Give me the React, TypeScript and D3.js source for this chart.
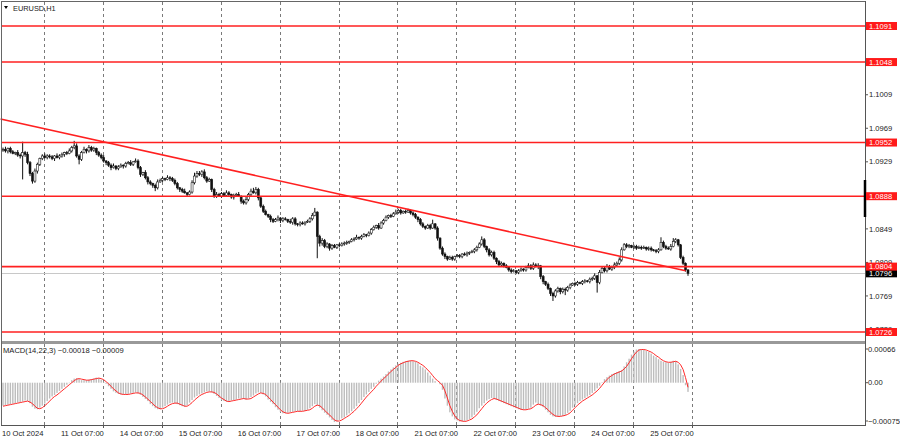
import React from 'react';
import * as d3 from 'd3';

// prices are kept in pips above BASE
const BASE = 1.07;
const PIP = 0.0001;
const FIRST_OPEN = 243;

// EURUSD H1 closes, 10 Oct 2024 -> 25 Oct 2024
const closes = [
    244, 242, 245, 241, 239, 240, 237, 236, 240, 238,
    228, 215, 206, 218, 226, 233, 236, 234, 236, 235,
    233, 236, 234, 236, 238, 240, 239, 242, 246, 248,
    236, 232, 240, 244, 242, 246, 243, 245, 240, 237,
    234, 230, 228, 225, 222, 224, 221, 223, 225, 224,
    227, 228, 226, 229, 230, 222, 214, 216, 210, 205,
    203, 201, 198, 205, 207, 209, 208, 210, 209, 207,
    203, 198, 196, 194, 192, 190, 193, 204, 212, 215,
    214, 217, 210, 206, 208, 196, 188, 190, 188, 191,
    189, 192, 190, 187, 189, 190, 188, 182, 180, 184,
    190, 194, 192, 196, 186, 176, 170, 166, 164, 160,
    158, 160, 162, 159, 161, 160, 158, 157, 161, 155,
    154, 156, 155, 157, 158, 161, 165, 169, 140, 132,
    135, 128, 131, 126, 129, 127, 130, 129, 131, 132,
    133, 134, 136, 137, 139, 138, 140, 142, 141, 144,
    148, 151, 153, 150, 156, 159, 163, 165, 164, 167,
    169, 171, 168, 170, 169, 171, 168, 166, 163, 160,
    155, 152, 150, 153, 150, 155, 150, 138, 126, 119,
    116, 113, 115, 113, 116, 117, 116, 119, 118, 120,
    121, 122, 124, 127, 131, 136, 128, 124, 118, 121,
    114, 110, 106, 108, 105, 103, 100, 98, 99, 97,
    99, 101, 100, 103, 105, 102, 106, 104, 105, 92,
    86, 83, 78, 72, 69, 75, 78, 74, 77, 76,
    79, 82, 84, 83, 85, 84, 86, 87, 86, 89,
    90, 93, 85, 97, 102, 99, 104, 101, 103, 106,
    108, 112, 124, 130, 128, 129, 127, 128, 126, 127,
    126, 127, 125, 126, 124, 123, 122, 124, 133, 128,
    126, 125, 128, 134, 136, 130, 115, 108, 100, 96,
];

// upper / lower shadows in pips
const wickUp = [
    2, 3, 1, 2, 2, 1, 3, 2, 13, 2,
    3, 2, 2, 3, 2, 1, 2, 3, 2, 2,
    2, 1, 3, 2, 2, 1, 2, 3, 2, 6,
    3, 2, 2, 3, 1, 3, 2, 2, 1, 2,
    2, 3, 1, 2, 2, 3, 1, 2, 2, 1,
    2, 2, 3, 1, 3, 2, 2, 1, 3, 2,
    2, 1, 2, 3, 2, 2, 1, 3, 2, 2,
    2, 2, 1, 2, 3, 1, 2, 3, 4, 3,
    3, 2, 3, 2, 2, 1, 2, 3, 2, 2,
    2, 3, 2, 1, 2, 2, 3, 1, 2, 3,
    2, 3, 4, 3, 2, 1, 2, 2, 1, 2,
    2, 2, 3, 1, 2, 2, 1, 3, 2, 2,
    1, 2, 2, 1, 2, 2, 3, 5, 1, 2,
    3, 2, 2, 1, 2, 2, 1, 2, 2, 2,
    2, 1, 2, 2, 3, 1, 2, 2, 1, 2,
    2, 2, 1, 3, 2, 2, 2, 1, 2, 2,
    3, 2, 2, 1, 2, 2, 1, 2, 2, 1,
    2, 2, 1, 2, 2, 5, 1, 2, 1, 2,
    2, 1, 2, 2, 1, 2, 2, 1, 2, 2,
    1, 2, 2, 2, 2, 4, 2, 1, 2, 2,
    2, 1, 2, 2, 1, 2, 1, 2, 2, 1,
    2, 2, 1, 2, 3, 2, 3, 2, 3, 1,
    2, 1, 2, 1, 2, 2, 2, 1, 2, 2,
    2, 2, 1, 2, 2, 1, 2, 2, 1, 2,
    2, 3, 1, 3, 2, 2, 3, 2, 2, 3,
    2, 3, 3, 2, 2, 2, 1, 2, 2, 2,
    2, 2, 1, 2, 2, 1, 2, 2, 6, 2,
    2, 2, 3, 4, 2, 1, 1, 2, 1, 1,
];

const wickDown = [
    2, 2, 3, 2, 1, 2, 2, 3, 28, 3,
    2, 3, 3, 2, 3, 2, 2, 1, 2, 2,
    2, 3, 1, 2, 2, 3, 2, 1, 2, 2,
    2, 6, 2, 1, 3, 2, 2, 2, 3, 2,
    2, 2, 3, 2, 3, 1, 2, 2, 1, 3,
    2, 1, 2, 2, 1, 2, 3, 2, 2, 3,
    2, 3, 4, 2, 1, 2, 2, 1, 3, 2,
    2, 2, 3, 2, 1, 2, 1, 2, 2, 2,
    2, 3, 2, 2, 1, 3, 2, 2, 1, 2,
    2, 1, 2, 2, 3, 2, 1, 3, 2, 2,
    2, 2, 1, 2, 3, 2, 2, 1, 2, 3,
    2, 1, 2, 3, 2, 1, 2, 2, 3, 2,
    2, 2, 1, 2, 1, 2, 2, 1, 26, 4,
    3, 2, 2, 3, 2, 1, 2, 2, 1, 2,
    2, 2, 1, 2, 1, 2, 2, 1, 2, 1,
    2, 1, 2, 2, 1, 2, 1, 2, 2, 1,
    1, 2, 2, 1, 2, 1, 2, 2, 2, 3,
    2, 2, 2, 1, 2, 1, 2, 3, 2, 2,
    3, 2, 1, 2, 2, 1, 2, 2, 1, 2,
    2, 1, 2, 2, 1, 2, 2, 3, 2, 2,
    2, 3, 2, 2, 2, 1, 2, 2, 1, 2,
    2, 1, 2, 2, 1, 2, 2, 1, 3, 3,
    3, 2, 2, 3, 6, 2, 2, 3, 2, 6,
    2, 2, 1, 2, 2, 1, 2, 2, 1, 2,
    2, 2, 12, 2, 1, 2, 2, 1, 2, 2,
    2, 2, 2, 1, 2, 2, 1, 2, 2, 1,
    2, 1, 2, 2, 2, 1, 2, 2, 1, 2,
    2, 1, 2, 1, 2, 2, 2, 2, 2, 3,
];

// MACD(14,22,3), in units of 0.00001
const macdMain = [
    -45, -44, -43, -42, -41, -40, -39, -38, -37, -35,
    -36, -40, -47, -51, -52, -49, -45, -41, -36, -31,
    -27, -24, -20, -16, -12, -8, -4, -1, 5, 8,
    9, 7, 5, 5, 5, 6, 7, 8, 10, 9,
    6, 2, -2, -7, -12, -17, -20, -22, -23, -23,
    -23, -22, -21, -20, -19, -21, -24, -28, -32, -36,
    -42, -46, -50, -52, -52, -49, -46, -43, -40, -39,
    -40, -42, -44, -46, -47, -44, -39, -34, -29, -26,
    -23, -21, -19, -17, -17, -19, -22, -26, -30, -34,
    -36, -37, -37, -35, -34, -33, -31, -31, -32, -33,
    -31, -28, -25, -21, -19, -20, -23, -27, -33, -38,
    -42, -48, -53, -57, -60, -60, -59, -58, -57, -56,
    -56, -56, -55, -55, -53, -50, -46, -42, -44, -49,
    -54, -59, -63, -68, -73, -77, -76, -73, -70, -68,
    -64, -60, -56, -51, -46, -40, -34, -28, -23, -18,
    -12, -8, -2, 4, 8, 12, 17, 22, 26, 30,
    34, 37, 39, 41, 42, 43, 43, 42, 41, 38,
    33, 30, 26, 20, 14, 8, 3, 0, -3, -14,
    -31, -45, -58, -66, -72, -74, -76, -76, -75, -73,
    -71, -68, -63, -57, -50, -45, -40, -35, -32, -30,
    -31, -34, -36, -38, -40, -42, -44, -46, -48, -50,
    -52, -53, -53, -52, -51, -49, -43, -39, -42, -45,
    -48, -53, -58, -63, -66, -67, -66, -65, -65, -63,
    -59, -55, -49, -44, -40, -36, -33, -30, -27, -24,
    -20, -16, -11, -6, 1, 7, 11, 14, 17, 19,
    21, 23, 25, 32, 40, 47, 55, 61, 65, 66,
    65, 64, 62, 60, 57, 53, 50, 46, 43, 41,
    40, 39, 41, 43, 42, 36, 27, 15, -5, -18,
];

const macdSignal = [
    -46, -45, -44, -43, -42, -41, -40, -39, -38, -37,
    -36, -38, -41, -46, -50, -51, -49, -45, -41, -36,
    -31, -27, -24, -20, -16, -12, -8, -4, 0, 4,
    7, 8, 7, 6, 5, 5, 6, 7, 8, 9,
    8, 6, 2, -2, -7, -12, -16, -20, -22, -23,
    -23, -23, -22, -21, -20, -20, -21, -24, -28, -32,
    -37, -41, -46, -49, -51, -51, -49, -46, -43, -41,
    -40, -40, -42, -44, -46, -46, -43, -39, -34, -30,
    -26, -23, -21, -19, -18, -18, -19, -22, -26, -30,
    -33, -36, -37, -36, -35, -34, -33, -32, -31, -32,
    -32, -31, -28, -25, -22, -20, -21, -23, -28, -33,
    -38, -43, -48, -53, -57, -59, -60, -59, -58, -57,
    -56, -56, -56, -55, -54, -53, -50, -46, -44, -45,
    -49, -54, -59, -63, -68, -73, -75, -75, -73, -70,
    -67, -64, -60, -56, -51, -46, -40, -34, -28, -23,
    -18, -13, -7, -2, 3, 8, 12, 17, 22, 26,
    30, 34, 37, 39, 41, 42, 43, 43, 42, 40,
    37, 34, 30, 25, 20, 14, 8, 4, 0, -5,
    -16, -30, -45, -56, -65, -71, -74, -75, -76, -75,
    -73, -71, -67, -63, -57, -51, -45, -40, -36, -33,
    -31, -32, -34, -36, -38, -40, -42, -44, -46, -48,
    -50, -52, -53, -53, -52, -51, -48, -44, -42, -43,
    -45, -49, -53, -58, -62, -65, -66, -66, -65, -64,
    -62, -59, -54, -49, -44, -40, -36, -33, -30, -27,
    -24, -20, -16, -11, -5, 1, 6, 11, 14, 17,
    19, 21, 23, 27, 32, 39, 47, 54, 60, 64,
    65, 65, 64, 62, 60, 57, 53, 50, 46, 43,
    41, 40, 40, 41, 42, 40, 35, 26, 10, -9,
];

const levels = [1.1091, 1.1048, 1.0952, 1.0888, 1.0804, 1.0726];
// grid prices whose labels are not covered by a level label
const priceTicks = [1.1009, 1.0969, 1.0929, 1.0849, 1.0809, 1.0769, 1.0729];
const macdTicks = [0.00066, 0, -0.00075];
const timeLabels = [
    '10 Oct 2024', '11 Oct 07:00', '14 Oct 07:00', '15 Oct 07:00', '16 Oct 07:00', '17 Oct 07:00',
    '18 Oct 07:00', '21 Oct 07:00', '22 Oct 07:00', '23 Oct 07:00', '24 Oct 07:00', '25 Oct 07:00',
];
const BARS_PER_LABEL = 24;
const trendLine = [
    { bar: -1, price: 1.0980 },
    { bar: 278, price: 1.0799 },
];
const lastPrice = 1.0796;
const macdLast = -0.00018;
const signalLast = -0.00009;

const W = 900;
const H = 441;
const LEFT = 2;
const RIGHT = 865;
const MAIN_BOTTOM = 341;
const MACD_TOP = 344;
const MACD_BOTTOM = 425;
const FONT = '"Liberation Sans", Arial, sans-serif';
const FS = 7.6;

const App: React.FC = () => {
    const x = d3.scaleLinear().domain([0, closes.length - 1]).range([3, 688]);
    const y = d3.scaleLinear().domain([1.0726, 1.1091]).range([332, 26]);
    const my = d3.scaleLinear().domain([-0.00075, 0.00066]).range([421, 349]);

    const candles = closes.map((c, i) => {
        const o = i === 0 ? FIRST_OPEN : closes[i - 1];
        const hi = Math.max(o, c) + wickUp[i];
        const lo = Math.min(o, c) - wickDown[i];
        return {
            i,
            open: BASE + o * PIP,
            close: BASE + c * PIP,
            high: BASE + hi * PIP,
            low: BASE + lo * PIP,
        };
    });

    const signalLine = d3.line<number>()
        .x((_, i) => x(i))
        .y(d => my(d * 0.00001));

    const fmt = d3.format('.4f');
    const gridXs = timeLabels.map((_, j) => x((j + 1) * BARS_PER_LABEL) - 18);

    return (
        <svg width={W} height={H} style={{ position: 'absolute', left: 0, top: 0, background: '#fff' }}
            fontFamily={FONT} fontSize={FS}>
            <rect x={0} y={0} width={W} height={H} fill="#fff" />

            {/* vertical dashed grid */}
            {gridXs.map((gx, j) => (
                <line key={'g' + j} x1={Math.round(gx) + 0.5} x2={Math.round(gx) + 0.5} y1={2} y2={MACD_BOTTOM}
                    stroke="#7a7a7a" strokeDasharray="3,3" shapeRendering="crispEdges" />
            ))}

            {/* current price line */}
            <line x1={LEFT} x2={RIGHT} y1={Math.round(y(lastPrice)) + 0.5} y2={Math.round(y(lastPrice)) + 0.5}
                stroke="#c8c8c8" shapeRendering="crispEdges" />

            {/* candles */}
            <g>
                {candles.map(d => {
                    const cx = x(d.i);
                    const top = y(Math.max(d.open, d.close));
                    const bot = y(Math.min(d.open, d.close));
                    const bull = d.close >= d.open;
                    return (
                        <g key={d.i}>
                            <line x1={cx} x2={cx} y1={y(d.high)} y2={y(d.low)} stroke="#111" strokeWidth={1} />
                            <rect x={cx - 1} y={top} width={2} height={Math.max(bot - top, 0.8)}
                                fill={bull ? '#fff' : '#111'} stroke="#111" strokeWidth={0.55} />
                        </g>
                    );
                })}
            </g>

            {/* horizontal levels */}
            {levels.map(l => (
                <line key={'l' + l} x1={LEFT} x2={RIGHT} y1={y(l)} y2={y(l)} stroke="#ff2020" strokeWidth={1.6} />
            ))}

            {/* trend line */}
            <line x1={x(trendLine[0].bar)} y1={y(trendLine[0].price)} x2={x(trendLine[1].bar)} y2={y(trendLine[1].price)}
                stroke="#ff2020" strokeWidth={1.6} />

            {/* MACD histogram */}
            {macdMain.map((v, i) => {
                const y0 = my(0);
                const y1 = my(v * 0.00001);
                return (
                    <rect key={'h' + i} x={x(i) - 0.7} width={1.4} y={Math.min(y0, y1)} height={Math.abs(y1 - y0)} fill="#bdbdbd" />
                );
            })}
            <path d={signalLine(macdSignal) || ''} fill="none" stroke="#ff2a2a" strokeWidth={1} />

            {/* frame */}
            <line x1={1.5} x2={1.5} y1={1} y2={MACD_BOTTOM} stroke="#666" />
            <line x1={1} x2={RIGHT} y1={1.5} y2={1.5} stroke="#666" />
            <rect x={LEFT} y={MAIN_BOTTOM} width={RIGHT - LEFT} height={MACD_TOP - MAIN_BOTTOM} fill="#999" />
            <line x1={RIGHT + 0.5} x2={RIGHT + 0.5} y1={1} y2={MACD_BOTTOM + 1} stroke="#555" />
            <line x1={1} x2={RIGHT + 1} y1={MACD_BOTTOM + 0.5} y2={MACD_BOTTOM + 0.5} stroke="#555" />
            <line x1={RIGHT} x2={RIGHT} y1={180} y2={217} stroke="#000" strokeWidth={2.5} />

            {/* price axis */}
            {priceTicks.map(t => (
                <g key={'t' + t}>
                    <line x1={RIGHT} x2={RIGHT + 3} y1={y(t)} y2={y(t)} stroke="#555" />
                    <text x={RIGHT + 4} y={y(t)} dy="0.35em" fill="#222">{fmt(t)}</text>
                </g>
            ))}
            {macdTicks.map(t => (
                <g key={'m' + t}>
                    <line x1={RIGHT} x2={RIGHT + 3} y1={my(t)} y2={my(t)} stroke="#555" />
                    <text x={RIGHT + 3} y={my(t)} dy="0.35em" fill="#222">{t === 0 ? '0.00' : d3.format('.5f')(t)}</text>
                </g>
            ))}

            {/* price labels */}
            <g>
                <rect x={RIGHT + 1} y={y(lastPrice) - 4} width={W - RIGHT - 4} height={8} fill="#000" />
                <text x={RIGHT + 4} y={y(lastPrice)} dy="0.35em" fill="#fff">{fmt(lastPrice)}</text>
            </g>
            {levels.map(l => (
                <g key={'pl' + l}>
                    <rect x={RIGHT + 1} y={y(l) - 4} width={W - RIGHT - 4} height={8} fill="#ff1a1a" />
                    <text x={RIGHT + 4} y={y(l)} dy="0.35em" fill="#fff">{fmt(l)}</text>
                </g>
            ))}

            {/* time axis */}
            {timeLabels.map((t, j) => (
                <g key={'x' + j}>
                    <line x1={Math.round(gridXs[j]) + 0.5} x2={Math.round(gridXs[j]) + 0.5} y1={MACD_BOTTOM} y2={MACD_BOTTOM + 3} stroke="#555" />
                    <text x={x(j * BARS_PER_LABEL) - 1} y={433} dy="0.35em" fill="#222">{t}</text>
                </g>
            ))}

            {/* titles */}
            <path d="M4,6 L8,6 L6,9 Z" fill="#000" />
            <text x={13} y={8} dy="0.35em" fill="#222" fontSize={7.4}>EURUSD,H1</text>
            <text x={3} y={350} dy="0.35em" fill="#222">
                {`MACD(14,22,3) ${d3.format('.5f')(macdLast)} ${d3.format('.5f')(signalLast)}`}
            </text>
        </svg>
    );
};

export default App;
